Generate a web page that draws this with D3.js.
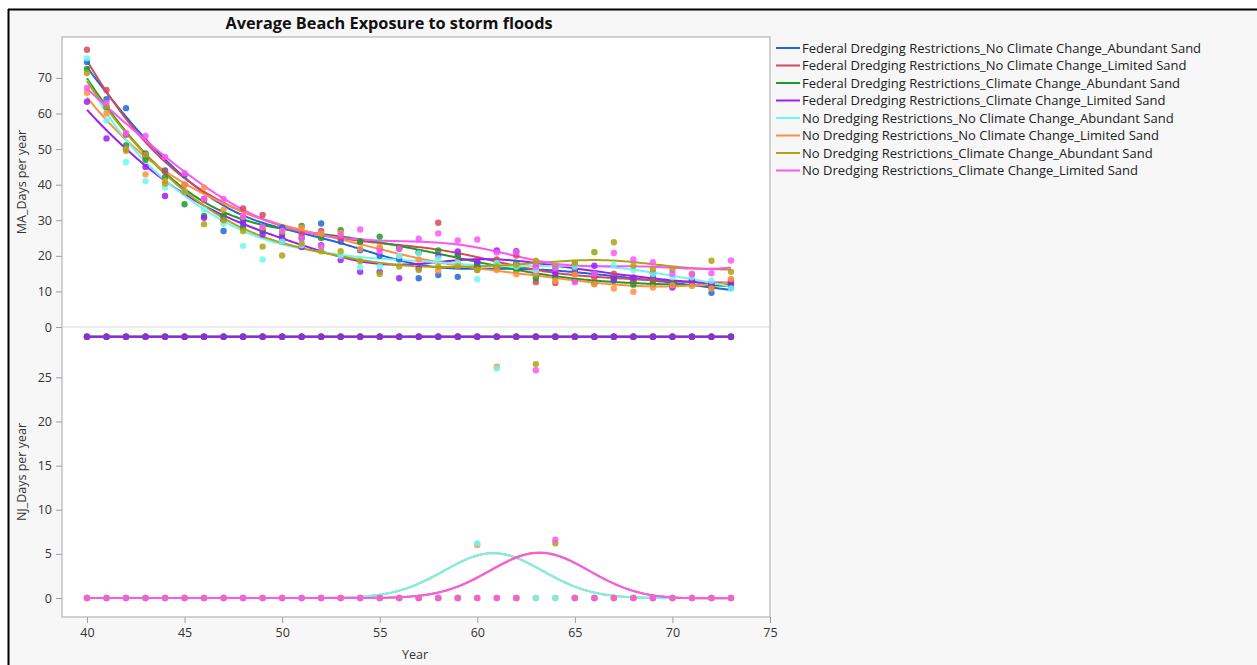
<!DOCTYPE html>
<html>
<head>
<meta charset="utf-8">
<script src="https://cdn.jsdelivr.net/npm/d3@7"></script>
<style>
  html, body { margin: 0; padding: 0; background: #ffffff; }
  svg { display: block; font-family: "Segoe UI", "Open Sans", "Noto Sans", sans-serif; }
</style>
</head>
<body>
<svg id="chart" width="1257" height="665"></svg>
<script>
// chart data
const years = d3.range(40, 74);

const seriesNames = [
  'Federal Dredging Restrictions_No Climate Change_Abundant Sand',
  'Federal Dredging Restrictions_No Climate Change_Limited Sand',
  'Federal Dredging Restrictions_Climate Change_Abundant Sand',
  'Federal Dredging Restrictions_Climate Change_Limited Sand',
  'No Dredging Restrictions_No Climate Change_Abundant Sand',
  'No Dredging Restrictions_No Climate Change_Limited Sand',
  'No Dredging Restrictions_Climate Change_Abundant Sand',
  'No Dredging Restrictions_Climate Change_Limited Sand'
];

const seriesColors = ['#2166d9', '#d5485a', '#1f9a2a', '#9a1ff5', '#6ef7ef', '#ff9040', '#aea310', '#ff55f5'];

// MA days per year, years 40..73
const maFedNoCCAbundant = [74.5, 64, 61.5, 48.8, 44, 42.7, 36, 27, 30, 27, 28, 25, 29.1, 24, 21.6, 20, 19, 13.7, 14.6, 14.1, 18, 17, 18, 15, 17, 16, 15, 14, 13, 14, 12, 13, 9.6, 11];
const maFedNoCCLimited = [77.9, 66.6, 54, 48, 43.6, 40, 35.7, 31, 33.3, 31.5, 24, 26, 27, 25, 24, 22, 22, 21, 29.3, 20, 17, 19, 20.1, 12.6, 12.4, 15, 14, 15, 13, 13, 12, 13, 12, 13];
const maFedCCAbundant = [72.5, 61.8, 51, 47, 42, 34.5, 31.2, 31.3, 28, 27, 26, 28.4, 25, 27.2, 24, 25.4, 22.4, 21, 21.5, 20, 17, 18, 16, 13.7, 14, 13, 12.2, 13, 11.9, 12, 12, 12, 11, 12];
const maFedCCLimited = [63.3, 53, 50, 45, 36.8, 38, 30.7, 30, 29.1, 26, 25, 22.5, 23, 18.8, 15.5, 15.5, 13.7, 16.5, 20, 21.2, 18.4, 21.5, 21.3, 17, 15, 17.4, 17.2, 13.4, 13.9, 15.1, 11.1, 13, 12, 12.4];
const maNoNoCCAbundant = [75.5, 58, 46.3, 41, 39.2, 38, 33, 29, 22.8, 19, 24, 23, 22, 20, 16.8, 17, 20, 20.7, 19.3, 18, 13.4, 18, 17, 16, 17, 17, 21.1, 17.4, 16, 15, 14, 14, 13, 10.8];
const maNoNoCCLimited = [65.8, 60, 50, 42.9, 41, 40, 39.2, 33, 31, 28, 27, 27.9, 26.2, 26.5, 22, 22.6, 20, 19, 15.8, 18, 16, 16, 14.8, 15, 13, 14.6, 12, 10.8, 9.9, 11.1, 11.7, 11.5, 10.8, 13.5];
const maNoCCAbundant = [71.4, 62, 49.5, 48.4, 40.3, 38, 28.9, 30, 27, 22.6, 20.1, 23.5, 21.3, 21.3, 18.5, 14.9, 17, 16, 17, 17, 16, 17, 17.5, 18.6, 17, 18, 21, 23.8, 17.2, 16.2, 16, 15, 18.6, 15.5];
const maNoCCLimited = [67.2, 63, 54.5, 53.7, 47.8, 43.2, 36, 36, 31.3, 28, 27, 24.9, 22.7, 25.8, 27.4, 21.2, 22, 24.8, 26.3, 24.3, 24.6, 20.9, 21, 17, 16.5, 12.6, 15, 20.8, 19, 18.2, 15, 14.8, 15.1, 18.7];

// NJ days per year, years 40..73
const njFedNoCCAbundant = [29.6, 29.6, 29.6, 29.6, 29.6, 29.6, 29.6, 29.6, 29.6, 29.6, 29.6, 29.6, 29.6, 29.6, 29.6, 29.6, 29.6, 29.6, 29.6, 29.6, 29.6, 29.6, 29.6, 29.6, 29.6, 29.6, 29.6, 29.6, 29.6, 29.6, 29.6, 29.6, 29.6, 29.6];
const njFedNoCCLimited = [29.6, 29.6, 29.6, 29.6, 29.6, 29.6, 29.6, 29.6, 29.6, 29.6, 29.6, 29.6, 29.6, 29.6, 29.6, 29.6, 29.6, 29.6, 29.6, 29.6, 29.6, 29.6, 29.6, 29.6, 29.6, 29.6, 29.6, 29.6, 29.6, 29.6, 29.6, 29.6, 29.6, 29.6];
const njFedCCAbundant = [29.6, 29.6, 29.6, 29.6, 29.6, 29.6, 29.6, 29.6, 29.6, 29.6, 29.6, 29.6, 29.6, 29.6, 29.6, 29.6, 29.6, 29.6, 29.6, 29.6, 29.6, 29.6, 29.6, 29.6, 29.6, 29.6, 29.6, 29.6, 29.6, 29.6, 29.6, 29.6, 29.6, 29.6];
const njFedCCLimited = [29.6, 29.6, 29.6, 29.6, 29.6, 29.6, 29.6, 29.6, 29.6, 29.6, 29.6, 29.6, 29.6, 29.6, 29.6, 29.6, 29.6, 29.6, 29.6, 29.6, 29.6, 29.6, 29.6, 29.6, 29.6, 29.6, 29.6, 29.6, 29.6, 29.6, 29.6, 29.6, 29.6, 29.6];
const njNoNoCCAbundant = [0, 0, 0, 0, 0, 0, 0, 0, 0, 0, 0, 0, 0, 0, 0, 0, 0, 0, 0, 0, 6.2, 26.0, 0, 0, 0, 0, 0, 0, 0, 0, 0, 0, 0, 0];
const njNoNoCCLimited = [0, 0, 0, 0, 0, 0, 0, 0, 0, 0, 0, 0, 0, 0, 0, 0, 0, 0, 0, 0, 6.0, 26.2, 0, 0, 0, 0, 0, 0, 0, 0, 0, 0, 0, 0];
const njNoCCAbundant = [0, 0, 0, 0, 0, 0, 0, 0, 0, 0, 0, 0, 0, 0, 0, 0, 0, 0, 0, 0, 0, 0, 0, 26.5, 6.2, 0, 0, 0, 0, 0, 0, 0, 0, 0];
const njNoCCLimited = [0, 0, 0, 0, 0, 0, 0, 0, 0, 0, 0, 0, 0, 0, 0, 0, 0, 0, 0, 0, 0, 0, 0, 25.8, 6.6, 0, 0, 0, 0, 0, 0, 0, 0, 0];

const maSeries = [maFedNoCCAbundant, maFedNoCCLimited, maFedCCAbundant, maFedCCLimited,
  maNoNoCCAbundant, maNoNoCCLimited, maNoCCAbundant, maNoCCLimited];
const njSeries = [njFedNoCCAbundant, njFedNoCCLimited, njFedCCAbundant, njFedCCLimited,
  njNoNoCCAbundant, njNoNoCCLimited, njNoCCAbundant, njNoCCLimited];

const xTicks = [40, 45, 50, 55, 60, 65, 70, 75];
const maTicks = [0, 10, 20, 30, 40, 50, 60, 70];
const njTicks = [0, 5, 10, 15, 20, 25];

// paint order of the series (cyan ends up above orange, as in the source)
const drawOrder = [0, 1, 2, 3, 5, 4, 6, 7];

// local linear smoother (gaussian kernel), used for the fit lines
const smooth = (xs, ys, bw) => {
  const grid = d3.range(xs[0], xs[xs.length - 1] + 0.001, 0.1);
  return grid.map(x0 => {
    let sw = 0, sx = 0, sy = 0, sxx = 0, sxy = 0;
    xs.forEach((x, i) => {
      const w = Math.exp(-0.5 * ((x - x0) / bw) ** 2);
      const dx = x - x0;
      sw += w; sx += w * dx; sy += w * ys[i]; sxx += w * dx * dx; sxy += w * dx * ys[i];
    });
    const det = sw * sxx - sx * sx;
    return [x0, (sxx * sy - sx * sxy) / det];
  });
};

// layout
const svg = d3.select('#chart');
const W = 1257, H = 665;
const plotL = 62, plotR = 770, plotT = 37, plotB = 617, split = 327;

svg.append('rect').attr('x', 8).attr('y', 9).attr('width', W - 8).attr('height', H - 9).attr('fill', '#f7f7f7');
svg.append('line').attr('x1', 8).attr('x2', W).attr('y1', 9.5).attr('y2', 9.5).attr('stroke', '#000').attr('stroke-width', 2);
svg.append('line').attr('x1', 8.5).attr('x2', 8.5).attr('y1', 9).attr('y2', H).attr('stroke', '#000').attr('stroke-width', 2);

svg.append('rect').attr('x', plotL).attr('y', plotT).attr('width', plotR - plotL).attr('height', plotB - plotT)
  .attr('fill', '#fff').attr('stroke', '#b4b4b4').attr('stroke-width', 1.2);

const x = d3.scaleLinear().domain([38.72, 75]).range([plotL, plotR]);
const yMA = d3.scaleLinear().domain([0, 81.5]).range([split, plotT]);
const yNJ = d3.scaleLinear().domain([-2.15, 30.7]).range([plotB, split]);

svg.append('line').attr('x1', plotL).attr('x2', plotR).attr('y1', split).attr('y2', split)
  .attr('stroke', '#d9d9d9').attr('stroke-width', 1);

// title
svg.append('text').attr('x', 389).attr('y', 29).attr('text-anchor', 'middle')
  .attr('font-size', 16.3).attr('font-weight', 'bold').attr('fill', '#111')
  .text('Average Beach Exposure to storm floods');

// axes
const styleAxis = g => {
  g.select('.domain').remove();
  g.selectAll('.tick line').attr('stroke', '#a0a0a0');
  g.selectAll('.tick text').attr('fill', '#333').attr('font-size', 12.5)
    .attr('font-family', '"Segoe UI", "Open Sans", "Noto Sans", sans-serif');
};

svg.append('g').attr('transform', `translate(${plotL},0)`)
  .call(d3.axisLeft(yMA).tickValues(maTicks).tickSize(6).tickPadding(4))
  .call(styleAxis);
svg.append('g').attr('transform', `translate(${plotL},0)`)
  .call(d3.axisLeft(yNJ).tickValues(njTicks).tickSize(6).tickPadding(4))
  .call(styleAxis);
svg.append('g').attr('transform', `translate(0,${plotB})`)
  .call(d3.axisBottom(x).tickValues(xTicks).tickSize(6).tickPadding(5))
  .call(styleAxis);

svg.append('text').attr('transform', `translate(26,${(plotT + split) / 2}) rotate(-90)`)
  .attr('text-anchor', 'middle').attr('font-size', 12.5).attr('fill', '#333').text('MA_Days per year');
svg.append('text').attr('transform', `translate(26,${(split + plotB) / 2}) rotate(-90)`)
  .attr('text-anchor', 'middle').attr('font-size', 12.5).attr('fill', '#333').text('NJ_Days per year');
svg.append('text').attr('x', 415).attr('y', 659).attr('text-anchor', 'middle')
  .attr('font-size', 12.5).attr('fill', '#333').text('Year');

// marks
const drawPanel = (seriesList, y) => {
  const g = svg.append('g');
  const line = d3.line().x(d => x(d[0])).y(d => y(d[1]));
  drawOrder.forEach(i => {
    g.append('path').datum(smooth(years, seriesList[i], 2.5))
      .attr('d', line).attr('fill', 'none')
      .attr('stroke', seriesColors[i]).attr('stroke-width', 2);
  });
  drawOrder.forEach(i => {
    g.selectAll(null).data(seriesList[i]).enter().append('circle')
      .attr('cx', (d, j) => x(years[j])).attr('cy', d => y(d)).attr('r', 3.2)
      .attr('fill', seriesColors[i]).attr('fill-opacity', 0.85);
  });
};
drawPanel(maSeries, yMA);
drawPanel(njSeries, yNJ);

// legend
const legend = svg.append('g').attr('transform', 'translate(776,48)');
seriesNames.forEach((name, i) => {
  const row = legend.append('g').attr('transform', `translate(0,${i * 17.5})`);
  row.append('line').attr('x1', 0).attr('x2', 24).attr('stroke', seriesColors[i]).attr('stroke-width', 2);
  row.append('text').attr('x', 26).attr('y', 4.5).attr('font-size', 13).attr('fill', '#222').text(name);
});
</script>
</body>
</html>
